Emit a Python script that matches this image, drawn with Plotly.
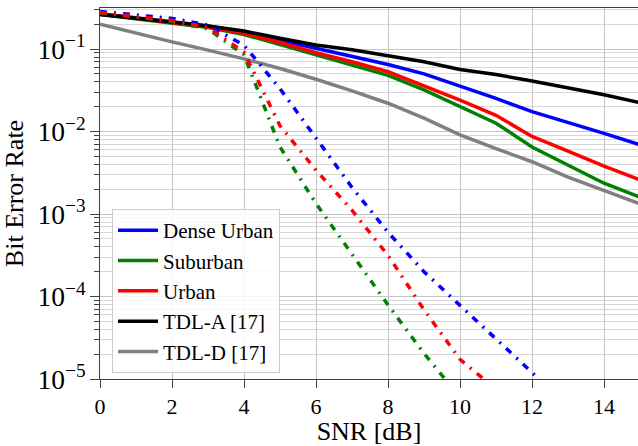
import plotly.graph_objects as go

snr = list(range(0, 16))

# Solid curves
dense_urban = [0.268, 0.24, 0.215, 0.19, 0.16, 0.128, 0.102, 0.082, 0.065, 0.05, 0.0356, 0.0252, 0.0174, 0.0129, 0.0095, 0.0069]
suburban = [0.262, 0.233, 0.207, 0.182, 0.15, 0.113, 0.085, 0.065, 0.048, 0.032, 0.0202, 0.0126, 0.0065, 0.0039, 0.00236, 0.0016]
urban = [0.265, 0.236, 0.21, 0.185, 0.155, 0.12, 0.09, 0.07, 0.053, 0.036, 0.024, 0.0157, 0.0087, 0.0058, 0.0038, 0.0026]
tdl_a = [0.262, 0.238, 0.213, 0.19, 0.165, 0.135, 0.112, 0.098, 0.083, 0.07, 0.0565, 0.049, 0.041, 0.034, 0.0279, 0.0223]
tdl_d = [0.2, 0.155, 0.122, 0.097, 0.076, 0.058, 0.043, 0.031, 0.022, 0.0145, 0.0091, 0.0062, 0.0043, 0.0028, 0.00195, 0.00133]

# Dash-dot curves
snr_du_dd = list(range(0, 14))
dense_urban_dd = [0.285, 0.258, 0.235, 0.195, 0.111, 0.033, 0.0082, 0.0021, 0.0006, 0.0002, 7.8e-5, 3.1e-5, 1.2e-5, 4.6e-6]
snr_u_dd = list(range(0, 12))
urban_dd = [0.278, 0.25, 0.222, 0.183, 0.092, 0.0117, 0.0034, 0.00111, 0.000315, 6.9e-5, 1.73e-5, 7.5e-6]
snr_s_dd = list(range(0, 11))
suburban_dd = [0.272, 0.245, 0.215, 0.175, 0.085, 0.0065, 0.00134, 0.00032, 7.9e-5, 2.04e-5, 6e-6]

x_ticks = [0, 2, 4, 6, 8, 10, 12, 14]

BLUE, GREEN, RED, BLACK, GRAY = "#0000ff", "#008000", "#ff0000", "#000000", "#808080"
FONT = "Liberation Serif, Times New Roman, serif"
LW = 3.5
DD = "7px,7px,2px,7px"

fig = go.Figure()
solids = [
    ("Dense Urban", dense_urban, BLUE),
    ("Suburban", suburban, GREEN),
    ("Urban", urban, RED),
    ("TDL-A [17]", tdl_a, BLACK),
    ("TDL-D [17]", tdl_d, GRAY),
]
for i, (name, vals, col) in enumerate(solids):
    fig.add_trace(go.Scatter(x=snr, y=vals, mode="lines", name=name,
                             legendgroup=f"g{i}",
                             line=dict(color=col, width=LW)))

for xs, vals, col in [(snr_du_dd, dense_urban_dd, BLUE),
                      (snr_s_dd, suburban_dd, GREEN),
                      (snr_u_dd, urban_dd, RED)]:
    fig.add_trace(go.Scatter(x=xs, y=vals, mode="lines", showlegend=False,
                             line=dict(color=col, width=LW, dash=DD)))

AX = "#404040"
fig.update_layout(
    width=638, height=446,
    margin=dict(l=100, r=0, t=8, b=67),
    paper_bgcolor="white", plot_bgcolor="white",
    font=dict(family=FONT, size=22, color="black"),
    legend=dict(x=0.0223, y=0.458, xanchor="left", yanchor="top",
                bgcolor="rgba(255,255,255,0.85)", bordercolor="#cccccc",
                borderwidth=1, font=dict(family=FONT, size=21),
                itemwidth=40, tracegroupgap=0),
    showlegend=True,
)
fig.update_xaxes(
    range=[0, 14.944], tickvals=x_ticks,
    showline=True, linecolor=AX, linewidth=1, mirror=True,
    ticks="outside", ticklen=8, tickcolor=AX,
    showgrid=True, gridcolor="#c4c4c4", gridwidth=1, zeroline=False,
    title=dict(text="SNR [dB]", standoff=6),
)
fig.update_yaxes(
    type="log", range=[-5, -0.503], dtick=1,
    exponentformat="power", showexponent="all",
    showline=True, linecolor=AX, linewidth=1, mirror=False,
    ticks="outside", ticklen=9, tickcolor=AX,
    showgrid=True, gridcolor="#c4c4c4", gridwidth=1, zeroline=False,
    minor=dict(dtick="D1", ticks="outside", ticklen=5, tickcolor=AX,
               showgrid=True, gridcolor="#d8d8d8", gridwidth=1),
    title=dict(text="Bit Error Rate", standoff=8),
)

fig.write_html("out.html")
